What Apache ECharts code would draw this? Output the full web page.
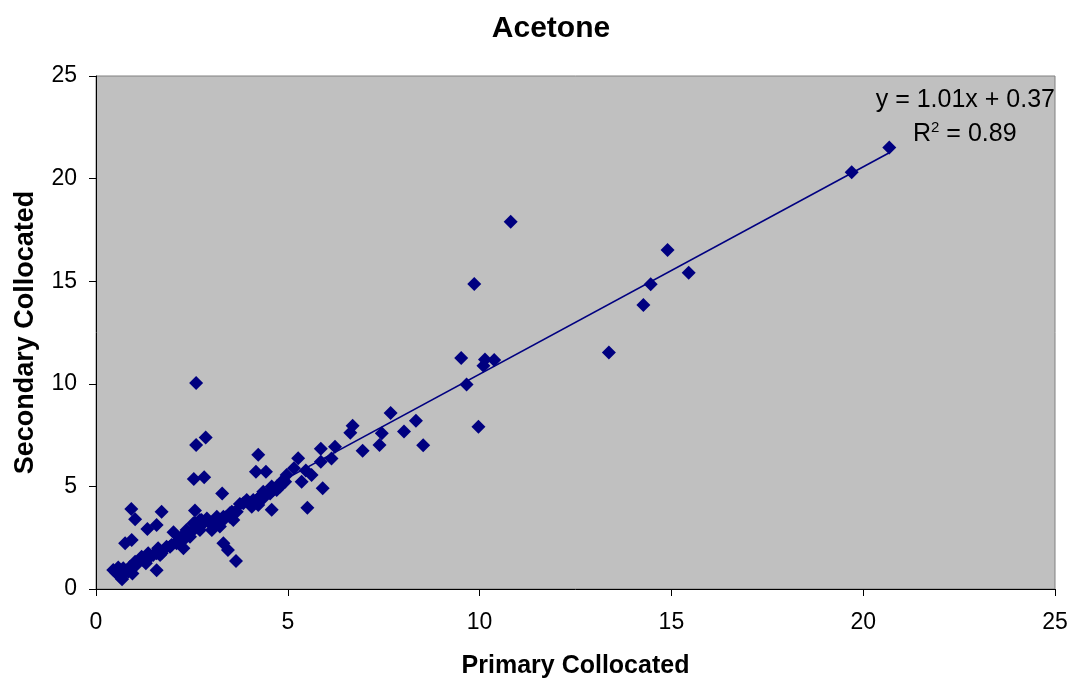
<!DOCTYPE html>
<html>
<head>
<meta charset="utf-8">
<script src="https://cdn.jsdelivr.net/npm/echarts@6/dist/echarts.min.js"></script>
<style>
html,body{margin:0;padding:0;background:#fff;}
#chart{width:1075px;height:679px;}
</style>
</head>
<body>
<div id="chart"></div>
<script>
// ---- data ----
const titleText = 'Acetone';
const xAxisName = 'Primary Collocated';
const yAxisName = 'Secondary Collocated';
const axisTicks = [0, 5, 10, 15, 20, 25];

const primary = [
  0.45,0.52,0.58,0.63,0.68,0.71,0.80,0.84,0.89,0.95,1.02,1.06,1.19,1.23,1.30,1.36,1.41,1.49,1.58,1.62,
  1.67,1.71,1.84,1.93,1.97,2.10,2.15,2.23,2.28,2.28,2.36,2.41,2.45,2.54,2.54,2.62,2.58,2.71,2.71,2.75,
  2.80,2.89,2.97,3.02,3.06,3.15,3.15,3.23,3.32,3.32,3.49,3.49,3.58,3.54,3.67,3.84,3.93,4.01,4.06,4.10,
  4.19,4.23,4.28,4.36,4.36,4.54,4.62,4.71,4.71,4.80,4.88,4.88,4.97,4.93,
  0.76,0.93,0.92,1.02,1.71,1.34,1.58,2.02,1.58,2.58,3.75,3.29,2.61,2.86,2.61,2.55,2.82,4.23,4.17,4.43,
  4.58,4.58,4.32,3.32,3.44,3.65,5.51,5.91,
  5.27,5.16,5.47,5.62,5.36,5.86,5.86,6.23,6.14,6.69,6.63,6.95,7.68,7.45,7.39,8.03,8.34,8.53,
  9.52,9.66,9.86,9.97,10.10,10.14,10.38,10.81,
  13.37,14.27,14.46,14.90,15.45,19.70,20.68
];
const secondary = [
  0.93,0.80,1.05,0.60,0.48,1.01,0.90,0.84,1.09,0.75,1.33,1.20,1.57,1.41,1.25,1.74,1.57,1.66,1.74,1.98,
  1.66,1.74,2.06,2.06,2.14,2.23,2.39,2.55,2.39,1.98,2.88,2.71,2.55,2.88,3.20,3.04,3.20,3.36,2.88,3.36,
  3.20,3.44,3.20,2.88,3.20,3.36,3.52,3.04,3.36,3.52,3.52,3.69,3.36,3.77,3.77,4.18,4.34,4.18,4.01,4.34,
  4.34,4.09,4.50,4.42,4.74,4.66,4.82,4.82,4.99,4.99,5.15,5.31,5.56,5.23,
  2.23,2.39,3.90,3.40,3.77,2.92,3.12,2.76,0.91,3.83,4.14,4.65,10.04,7.38,7.02,5.36,5.44,6.54,5.72,5.72,
  3.86,4.99,4.58,2.23,1.90,1.36,3.96,4.91,
  6.37,5.88,5.78,5.56,5.23,6.84,6.20,6.93,6.36,7.95,7.62,6.74,8.58,7.59,7.02,7.67,8.20,7.00,
  11.26,9.97,14.86,7.91,10.88,11.19,11.16,17.90,
  11.53,13.84,14.85,16.52,15.41,20.31,21.52
];

const trendSlope = 1.01;
const trendIntercept = 0.37;
const equationText = 'y = 1.01x + 0.37';
const r2Value = '0.89';

// ---- build ----
const points = primary.map((x, i) => [x, secondary[i]]);
const xMin = Math.min(...primary), xMax = Math.max(...primary);
const trend = [[xMin, trendSlope * xMin + trendIntercept], [xMax, trendSlope * xMax + trendIntercept]];

const FONT = '"Liberation Sans", Arial, sans-serif';
const chart = echarts.init(document.getElementById('chart'), null, {renderer: 'canvas'});

const axisCommon = {
  min: axisTicks[0], max: axisTicks[axisTicks.length - 1], interval: axisTicks[1] - axisTicks[0],
  axisLine: {show: true, onZero: false, lineStyle: {color: '#000', width: 1}},
  axisTick: {show: true, inside: false, length: 7, lineStyle: {color: '#000'}},
  splitLine: {show: false},
  axisLabel: {color: '#000', fontFamily: FONT, fontSize: 23},
  nameLocation: 'middle',
  nameTextStyle: {color: '#000', fontFamily: FONT, fontSize: 25, fontWeight: 'bold'}
};

chart.setOption({
  animation: false,
  backgroundColor: '#fff',
  title: {
    text: titleText, left: 546, top: 9, textAlign: 'center',
    textStyle: {fontFamily: FONT, fontSize: 30, fontWeight: 'bold', color: '#000'}
  },
  grid: {
    left: 96, right: 20, top: 76, bottom: 90,
    containLabel: false, outerBoundsMode: 'none',
    show: true, backgroundColor: '#C0C0C0', borderColor: '#808080', borderWidth: 1
  },
  xAxis: Object.assign({}, axisCommon, {
    type: 'value', name: xAxisName, nameGap: 65,
    axisLabel: Object.assign({}, axisCommon.axisLabel, {margin: 22})
  }),
  yAxis: Object.assign({}, axisCommon, {
    type: 'value', name: yAxisName, nameGap: 57,
    nameTextStyle: Object.assign({}, axisCommon.nameTextStyle, {fontSize: 27}),
    axisLabel: Object.assign({}, axisCommon.axisLabel, {margin: 19})
  }),
  series: [
    {
      type: 'line', data: trend, symbol: 'none', silent: true,
      lineStyle: {color: '#000080', width: 1.6}, z: 2
    },
    {
      type: 'scatter', data: points, symbol: 'diamond', symbolSize: [14, 14],
      itemStyle: {color: '#000080', opacity: 1}, z: 3
    }
  ],
  graphic: [
    {
      type: 'text', right: 20, top: 88,
      style: {text: equationText, font: '25px ' + FONT, fill: '#000', textAlign: 'right'}
    },
    {
      type: 'text', left: 913, top: 120,
      style: {
        text: '{b|R}{s|2}{b| = ' + r2Value + '}',
        rich: {
          b: {font: '25px ' + FONT, fill: '#000', verticalAlign: 'bottom'},
          s: {font: '15px ' + FONT, fill: '#000', verticalAlign: 'top', padding: [0, 0, 12, 0]}
        }
      }
    }
  ]
});
</script>
</body>
</html>
